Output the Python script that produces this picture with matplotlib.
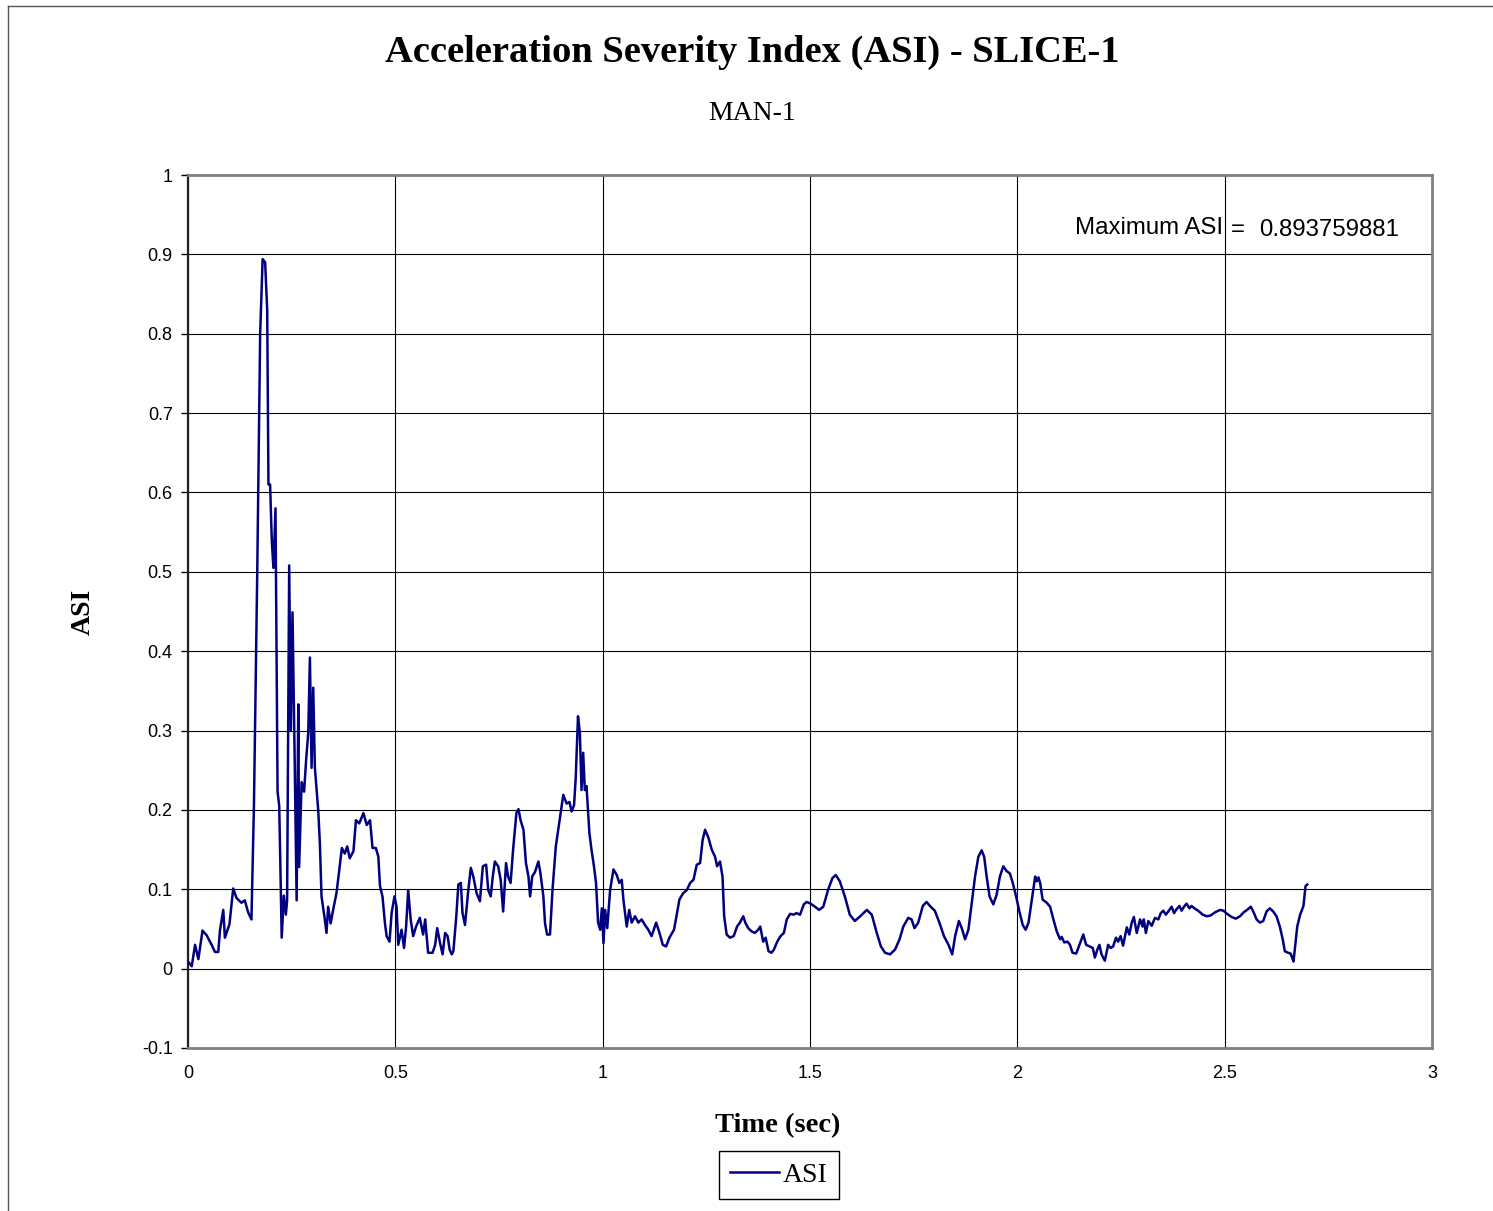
import matplotlib.pyplot as plt
from matplotlib.lines import Line2D

# ASI time history
time = [0.0, 0.009, 0.017, 0.025, 0.035, 0.045, 0.057, 0.065, 0.073, 0.077, 0.085, 0.089, 0.1, 0.109,
        0.117, 0.129, 0.137, 0.145, 0.153, 0.159, 0.167, 0.174, 0.180, 0.186, 0.191, 0.194, 0.198,
        0.202, 0.206, 0.211, 0.216, 0.220, 0.226, 0.231, 0.236, 0.239, 0.244, 0.248, 0.252, 0.257,
        0.262, 0.266, 0.268, 0.274, 0.280, 0.285, 0.290, 0.294, 0.298, 0.302, 0.306,
        0.314, 0.318, 0.322, 0.330, 0.334, 0.338, 0.344, 0.350, 0.358, 0.365, 0.371, 0.378, 0.384,
        0.39, 0.399, 0.405, 0.413, 0.423, 0.431, 0.439, 0.445, 0.453, 0.459, 0.463, 0.469, 0.475,
        0.479, 0.486, 0.491, 0.498, 0.503, 0.507, 0.515, 0.521, 0.526, 0.531, 0.537, 0.543, 0.550,
        0.559, 0.567, 0.572, 0.579, 0.590, 0.596, 0.601, 0.608, 0.614, 0.620, 0.626, 0.631, 0.636,
        0.640, 0.647, 0.652, 0.658, 0.662, 0.668, 0.676, 0.682, 0.688, 0.696, 0.704, 0.711, 0.719,
        0.724, 0.730, 0.735, 0.740, 0.748, 0.754, 0.760, 0.767, 0.772, 0.778, 0.784, 0.792, 0.797,
        0.802, 0.809, 0.815, 0.821, 0.825, 0.830, 0.837, 0.845, 0.850, 0.857, 0.861, 0.866, 0.873,
        0.879, 0.887, 0.895, 0.905, 0.913, 0.920, 0.925, 0.931, 0.935, 0.9405,
        0.945, 0.949, 0.953, 0.957, 0.961, 0.968, 0.973, 0.979, 0.984, 0.989, 0.994, 0.998, 1.002,
        1.006, 1.011, 1.018, 1.026, 1.034, 1.04, 1.046, 1.050, 1.058, 1.064, 1.070, 1.078, 1.086,
        1.094, 1.102, 1.110, 1.118, 1.129, 1.137, 1.145, 1.153, 1.161, 1.172, 1.178, 1.185, 1.194,
        1.203, 1.211, 1.219, 1.227, 1.235, 1.241, 1.247, 1.255, 1.263, 1.271, 1.276, 1.283, 1.289,
        1.293, 1.299, 1.307, 1.316, 1.324, 1.331, 1.339, 1.344, 1.351, 1.359, 1.367, 1.375, 1.380,
        1.387, 1.393, 1.400, 1.407, 1.413, 1.421, 1.429, 1.437, 1.444, 1.452, 1.461, 1.467, 1.476,
        1.485, 1.492, 1.501, 1.512, 1.522, 1.532, 1.544, 1.554, 1.562, 1.572, 1.584, 1.596, 1.608,
        1.621, 1.637, 1.649, 1.661, 1.671, 1.681, 1.693, 1.705, 1.716, 1.725, 1.737, 1.745, 1.752,
        1.761, 1.772, 1.781, 1.791, 1.801, 1.812, 1.823, 1.834, 1.843, 1.850, 1.859, 1.866, 1.874,
        1.882, 1.890, 1.898, 1.906, 1.914, 1.920, 1.926, 1.933, 1.942, 1.950, 1.958, 1.966, 1.974,
        1.982, 1.989, 1.997, 2.005, 2.013, 2.020, 2.027, 2.035, 2.043, 2.047, 2.051, 2.055, 2.061,
        2.071, 2.079, 2.087, 2.095, 2.103, 2.107, 2.113, 2.121, 2.127, 2.133, 2.142, 2.147, 2.153,
        2.159, 2.166, 2.174, 2.182, 2.187, 2.193, 2.198, 2.203, 2.211, 2.219, 2.225, 2.231, 2.238,
        2.243, 2.249, 2.255, 2.264, 2.270, 2.276, 2.281, 2.288,
        2.296, 2.302, 2.305, 2.310, 2.316, 2.324, 2.332, 2.340, 2.346, 2.352, 2.358, 2.364, 2.372,
        2.378, 2.384, 2.391, 2.396, 2.402, 2.408, 2.415, 2.420, 2.427, 2.436, 2.447, 2.457, 2.466,
        2.477, 2.489, 2.497, 2.506, 2.517, 2.527, 2.537, 2.546, 2.554, 2.563, 2.569, 2.577, 2.585,
        2.593, 2.601, 2.609, 2.617, 2.625, 2.633, 2.640, 2.645, 2.653, 2.659, 2.662, 2.666, 2.670,
        2.675, 2.682, 2.690, 2.695, 2.699]

asi = [0.009, 0.003, 0.03, 0.012, 0.048, 0.042, 0.03, 0.021, 0.021, 0.048, 0.074, 0.039, 0.056, 0.101,
       0.089, 0.083, 0.086, 0.071, 0.062, 0.205, 0.50, 0.80, 0.894, 0.89, 0.83, 0.61, 0.61,
       0.54, 0.505, 0.58, 0.223, 0.205, 0.039, 0.092, 0.068, 0.086, 0.508, 0.30, 0.449, 0.273,
       0.086, 0.333, 0.128, 0.235, 0.223, 0.264, 0.297, 0.392, 0.253, 0.354, 0.253,
       0.2, 0.158, 0.091, 0.062, 0.045, 0.078, 0.057, 0.074, 0.095, 0.125, 0.152, 0.145, 0.154,
       0.139, 0.148, 0.187, 0.183, 0.196, 0.181, 0.187, 0.152, 0.152, 0.141, 0.104, 0.091, 0.057,
       0.041, 0.034, 0.07, 0.091, 0.078, 0.03, 0.049, 0.026, 0.053, 0.099, 0.062, 0.041, 0.053,
       0.064, 0.043, 0.062, 0.02, 0.02, 0.03, 0.051, 0.032, 0.018, 0.045, 0.041, 0.024, 0.018,
       0.022, 0.066, 0.106, 0.108, 0.07, 0.055, 0.099, 0.127, 0.116, 0.095, 0.085, 0.129, 0.131,
       0.099, 0.091, 0.116, 0.135, 0.129, 0.112, 0.072, 0.133, 0.116, 0.108, 0.15, 0.196, 0.201,
       0.187, 0.175, 0.133, 0.116, 0.091, 0.116, 0.122, 0.135, 0.12, 0.091, 0.057, 0.043, 0.043,
       0.099, 0.154, 0.183, 0.219, 0.208, 0.21, 0.198, 0.206, 0.24, 0.318,
       0.297, 0.225, 0.272, 0.225, 0.23, 0.171, 0.15, 0.129, 0.108, 0.058, 0.049, 0.076, 0.032,
       0.074, 0.051, 0.099, 0.125, 0.118, 0.108, 0.112, 0.087, 0.053, 0.074, 0.058, 0.066, 0.058,
       0.062, 0.055, 0.049, 0.041, 0.058, 0.045, 0.03, 0.028, 0.039, 0.049, 0.066, 0.087, 0.095,
       0.099, 0.108, 0.112, 0.131, 0.133, 0.162, 0.175, 0.165, 0.15, 0.141, 0.129, 0.135, 0.116,
       0.066, 0.043, 0.039, 0.041, 0.053, 0.058, 0.066, 0.058, 0.051, 0.047, 0.045, 0.049, 0.053,
       0.034, 0.039, 0.022, 0.02, 0.024, 0.034, 0.041, 0.045, 0.062, 0.069, 0.068, 0.07, 0.068,
       0.081, 0.084, 0.082, 0.078, 0.074, 0.078, 0.1, 0.114, 0.118, 0.11, 0.091, 0.068, 0.06,
       0.066, 0.074, 0.068, 0.045, 0.028, 0.02, 0.018, 0.024, 0.037, 0.053, 0.064, 0.062, 0.051,
       0.058, 0.079, 0.084, 0.078, 0.073, 0.058, 0.041, 0.03, 0.018, 0.041, 0.06, 0.051, 0.037,
       0.049, 0.083, 0.116, 0.141, 0.149, 0.141, 0.116, 0.091, 0.081, 0.093, 0.116, 0.129, 0.123,
       0.12, 0.108, 0.091, 0.072, 0.055, 0.049, 0.058, 0.087, 0.116, 0.11, 0.115, 0.108, 0.087,
       0.083, 0.078, 0.062, 0.047, 0.037, 0.04, 0.033, 0.034, 0.03, 0.02, 0.019, 0.026, 0.034,
       0.043, 0.03, 0.028, 0.026, 0.014, 0.024, 0.03, 0.018, 0.01, 0.03, 0.026, 0.028, 0.039,
       0.034, 0.041, 0.029, 0.052, 0.043, 0.058, 0.065, 0.045,
       0.062, 0.053, 0.062, 0.045, 0.06, 0.054, 0.064, 0.062, 0.07, 0.073, 0.068, 0.072, 0.078,
       0.07, 0.075, 0.079, 0.073, 0.078, 0.082, 0.076, 0.079, 0.076, 0.073, 0.068, 0.066, 0.067,
       0.071, 0.074, 0.073, 0.069, 0.065, 0.063, 0.066, 0.071, 0.074, 0.078, 0.072, 0.062, 0.058,
       0.06, 0.072, 0.076, 0.072, 0.066, 0.053, 0.037, 0.022, 0.02, 0.019, 0.015, 0.009, 0.028,
       0.053, 0.068, 0.079, 0.104, 0.106]

x_ticks = [0, 0.5, 1, 1.5, 2, 2.5, 3]
y_ticks = [-0.1, 0, 0.1, 0.2, 0.3, 0.4, 0.5, 0.6, 0.7, 0.8, 0.9, 1]
x_tick_labels = ['0', '0.5', '1', '1.5', '2', '2.5', '3']
y_tick_labels = ['-0.1', '0', '0.1', '0.2', '0.3', '0.4', '0.5', '0.6', '0.7', '0.8', '0.9', '1']

serif = 'Liberation Serif'
sans = 'Liberation Sans'

fig = plt.figure(figsize=(14.93, 12.11), dpi=100)
ax = fig.add_axes([188 / 1493, 1 - 1048 / 1211, (1432 - 188) / 1493, (1048 - 175) / 1211])

ax.plot(time, asi, color='#000080', lw=1.8, label='ASI', zorder=3)

ax.set_xlim(0, 3)
ax.set_ylim(-0.1, 1)
ax.set_xticks(x_ticks)
ax.set_xticklabels(x_tick_labels, fontfamily=sans, fontsize=13)
ax.set_yticks(y_ticks)
ax.set_yticklabels(y_tick_labels, fontfamily=sans, fontsize=13)
ax.tick_params(axis='x', length=0, pad=12)
ax.tick_params(axis='y', length=5, width=1, color='black', pad=6, direction='out')
ax.grid(True, color='black', lw=0.8)
ax.set_axisbelow(True)
for s in ['top', 'right', 'bottom']:
    ax.spines[s].set_color('#808080')
    ax.spines[s].set_linewidth(2)
ax.spines['left'].set_color('#222222')
ax.spines['left'].set_linewidth(1.6)

ax.set_xlabel('Time (sec)', fontfamily=serif, fontweight='bold', fontsize=20.5)
ax.xaxis.set_label_coords((778 - 188) / 1244, -(1126 - 1048) / 873, transform=ax.transAxes)
ax.xaxis.label.set_va('center')
ax.set_ylabel('ASI', fontfamily=serif, fontweight='bold', fontsize=20, labelpad=33)

ax.text(2.139, 0.933, 'Maximum ASI', fontfamily=sans, fontsize=17.3, va='center', ha='left')
ax.text(2.516, 0.931, '=', fontfamily=sans, fontsize=17.3, va='center', ha='left')
ax.text(2.584, 0.931, '0.893759881', fontfamily=sans, fontsize=17.3, va='center', ha='left')

fig.text(0.504, 1 - 52 / 1211, 'Acceleration Severity Index (ASI) - SLICE-1', fontfamily=serif,
         fontweight='bold', fontsize=27.7, ha='center', va='center')
fig.text(0.504, 1 - 113 / 1211, 'MAN-1', fontfamily=serif, fontsize=20, ha='center', va='center')

leg = fig.legend(handles=[Line2D([], [], color='#000080', lw=1.8)], labels=['ASI'],
                 loc='center', bbox_to_anchor=(779 / 1493, 1 - 1175 / 1211),
                 prop={'family': serif, 'size': 20}, fancybox=False, framealpha=1,
                 edgecolor='black', handlelength=1.75, handletextpad=0.15,
                 borderpad=0.4, borderaxespad=0)
leg.get_frame().set_linewidth(1)

# outer chart border (only left and top edges are inside the picture)
fig.add_artist(Line2D([8 / 1493, 8 / 1493], [0, 1 - 6 / 1211], color='#555555', lw=1))
fig.add_artist(Line2D([8 / 1493, 1], [1 - 6 / 1211, 1 - 6 / 1211], color='#555555', lw=1))

plt.savefig('out.png', dpi=100)
